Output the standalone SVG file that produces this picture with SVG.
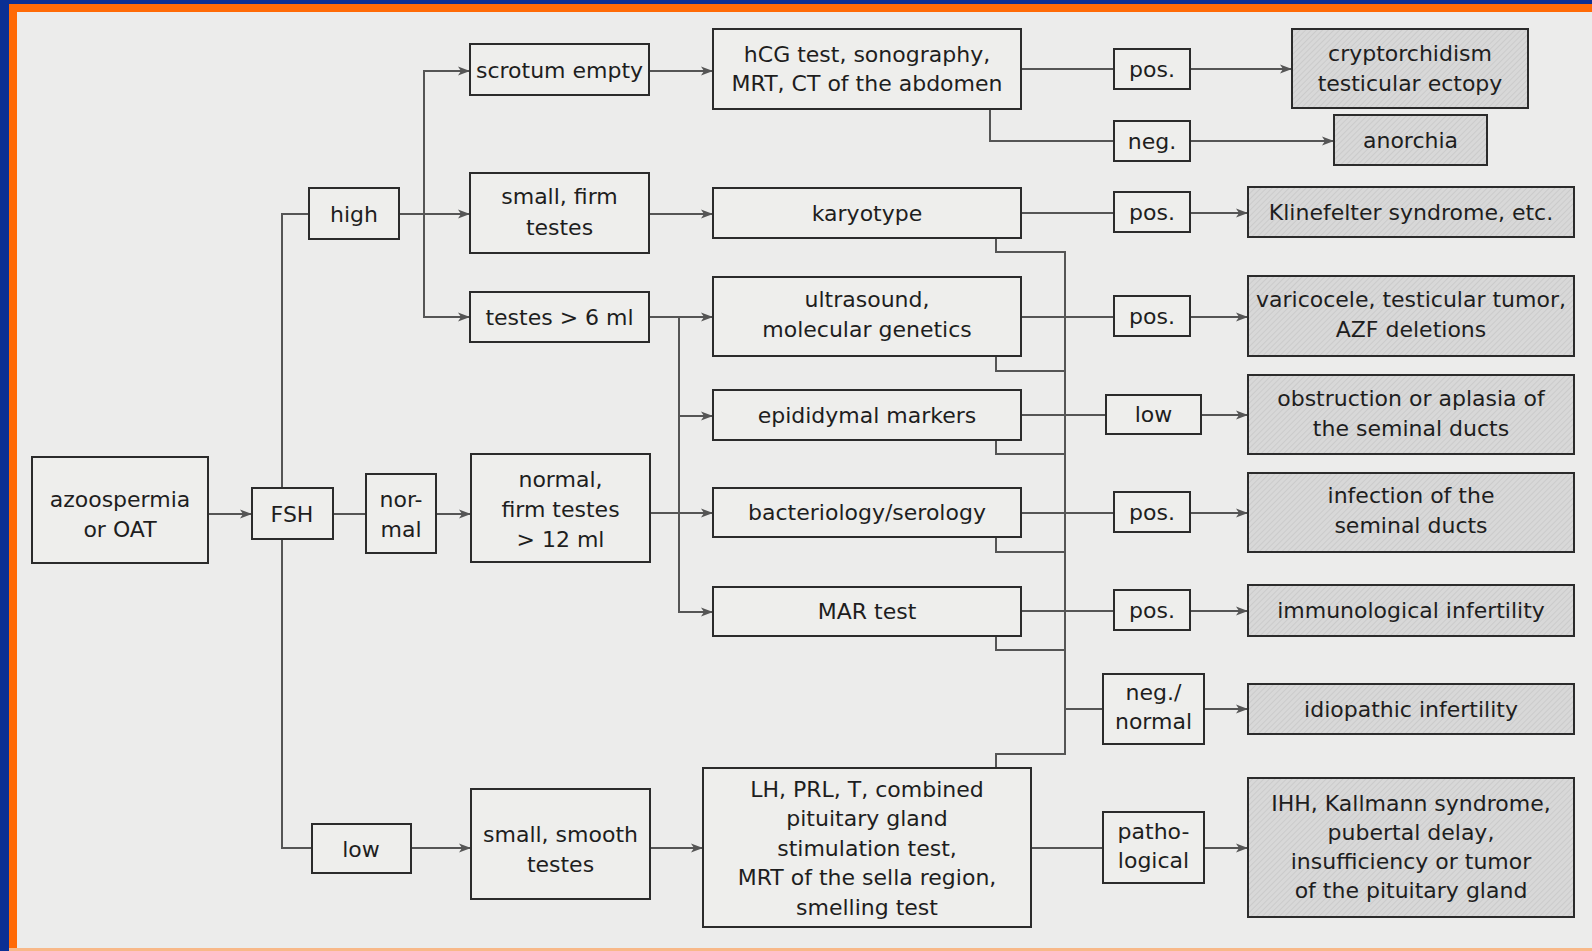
<svg xmlns="http://www.w3.org/2000/svg" width="1592" height="951" viewBox="0 0 1592 951">
<defs>
<style>
.b{fill:#eeeeec;stroke:#2b2b2b;stroke-width:2}
.r{fill:url(#hatch);stroke:#2b2b2b;stroke-width:2}
.t{font-family:"DejaVu Sans","Open Sans",sans-serif;font-size:22px;fill:#1e1e1e;text-anchor:middle}
.c{fill:none;stroke:#555;stroke-width:2}
.a{marker-end:url(#arr)}
</style>
<pattern id="hatch" width="4" height="4" patternUnits="userSpaceOnUse" patternTransform="rotate(45)">
<rect width="4" height="4" fill="#d8d8d8"/>
<line x1="0" y1="0" x2="0" y2="4" stroke="#c6c6c6" stroke-width="1.4"/>
</pattern>
<marker id="arr" viewBox="0 0 12 10" refX="12" refY="5" markerWidth="12" markerHeight="10" markerUnits="userSpaceOnUse" orient="auto">
<path d="M0,0.5 L12,5 L0,9.5 L3,5 z" fill="#555"/>
</marker>
</defs>
<rect x="0" y="0" width="1592" height="951" fill="#ececeb"/>
<rect x="0" y="0" width="1592" height="4" fill="#0a2f93"/>
<rect x="0" y="4" width="1592" height="8" fill="#ff6a06"/>
<rect x="0" y="0" width="9" height="951" fill="#0a2f93"/>
<rect x="9" y="4" width="8" height="947" fill="#ff6a06"/>
<rect x="9" y="948" width="1583" height="3" fill="#f8b888"/>

<g id="connectors">
<path class="c a" d="M208,514 H252"/>
<path class="c" d="M309,214 H282 V848 H312"/>
<path class="c" d="M333,514 H366"/>
<path class="c a" d="M436,514 H471"/>
<path class="c a" d="M399,214 H470"/>
<path class="c a" d="M424,214 V71 H470"/>
<path class="c a" d="M424,214 V317 H470"/>
<path class="c a" d="M411,848 H471"/>
<path class="c a" d="M649,71 H713"/>
<path class="c a" d="M649,214 H713"/>
<path class="c a" d="M649,317 H713"/>
<path class="c a" d="M679,317 V416 H713"/>
<path class="c a" d="M679,416 V513 H713"/>
<path class="c a" d="M679,513 V612 H713"/>
<path class="c" d="M650,513 H679"/>
<path class="c a" d="M650,848 H703"/>
<path class="c" d="M1021,69 H1114"/>
<path class="c a" d="M1190,69 H1292"/>
<path class="c" d="M990,109 V141 H1114"/>
<path class="c a" d="M1190,141 H1334"/>
<path class="c" d="M1021,213 H1114"/>
<path class="c a" d="M1190,213 H1248"/>
<path class="c" d="M1021,317 H1114"/>
<path class="c a" d="M1190,317 H1248"/>
<path class="c" d="M1021,415 H1106"/>
<path class="c a" d="M1201,415 H1248"/>
<path class="c" d="M1021,513 H1114"/>
<path class="c a" d="M1190,513 H1248"/>
<path class="c" d="M1021,611 H1114"/>
<path class="c a" d="M1190,611 H1248"/>
<path class="c" d="M996,238 V252 H1065 V754 H996 V768"/>
<path class="c" d="M996,356 V371 H1065"/>
<path class="c" d="M996,440 V454 H1065"/>
<path class="c" d="M996,537 V552 H1065"/>
<path class="c" d="M996,636 V650 H1065"/>
<path class="c" d="M1065,709 H1103"/>
<path class="c a" d="M1204,709 H1248"/>
<path class="c" d="M1031,848 H1103"/>
<path class="c a" d="M1204,848 H1248"/>
</g>

<g id="n-azoospermia"><rect class="b" x="32" y="457" width="176" height="106"/><text class="t" x="120" y="507">azoospermia</text><text class="t" x="120" y="537">or OAT</text></g>
<g id="n-fsh"><rect class="b" x="252" y="488" width="81" height="51"/><text class="t" x="292" y="522">FSH</text></g>
<g id="n-high"><rect class="b" x="309" y="188" width="90" height="51"/><text class="t" x="354" y="222">high</text></g>
<g id="n-normal"><rect class="b" x="366" y="474" width="70" height="79"/><text class="t" x="401" y="507">nor-</text><text class="t" x="401" y="537">mal</text></g>
<g id="n-low"><rect class="b" x="312" y="824" width="99" height="49"/><text class="t" x="361" y="857">low</text></g>

<g id="n-scrotum"><rect class="b" x="470" y="44" width="179" height="51"/><text class="t" x="559.5" y="78">scrotum empty</text></g>
<g id="n-smallfirm"><rect class="b" x="470" y="173" width="179" height="80"/><text class="t" x="559.5" y="204">small, firm</text><text class="t" x="559.5" y="235">testes</text></g>
<g id="n-testes6"><rect class="b" x="470" y="292" width="179" height="50"/><text class="t" x="559.5" y="325">testes &gt; 6 ml</text></g>
<g id="n-normalfirm"><rect class="b" x="471" y="454" width="179" height="108"/><text class="t" x="560.5" y="487">normal,</text><text class="t" x="560.5" y="517">firm testes</text><text class="t" x="560.5" y="547">&gt; 12 ml</text></g>
<g id="n-smallsmooth"><rect class="b" x="471" y="789" width="179" height="110"/><text class="t" x="560.5" y="842">small, smooth</text><text class="t" x="560.5" y="872">testes</text></g>

<g id="n-hcg"><rect class="b" x="713" y="29" width="308" height="80"/><text class="t" x="867" y="62">hCG test, sonography,</text><text class="t" x="867" y="91">MRT, CT of the abdomen</text></g>
<g id="n-karyotype"><rect class="b" x="713" y="188" width="308" height="50"/><text class="t" x="867" y="221">karyotype</text></g>
<g id="n-ultrasound"><rect class="b" x="713" y="277" width="308" height="79"/><text class="t" x="867" y="307">ultrasound,</text><text class="t" x="867" y="337">molecular genetics</text></g>
<g id="n-epididymal"><rect class="b" x="713" y="390" width="308" height="50"/><text class="t" x="867" y="423">epididymal markers</text></g>
<g id="n-bacteriology"><rect class="b" x="713" y="488" width="308" height="49"/><text class="t" x="867" y="520">bacteriology/serology</text></g>
<g id="n-mar"><rect class="b" x="713" y="587" width="308" height="49"/><text class="t" x="867" y="619">MAR test</text></g>
<g id="n-lh"><rect class="b" x="703" y="768" width="328" height="159"/><text class="t" x="867" y="797">LH, PRL, T, combined</text><text class="t" x="867" y="826">pituitary gland</text><text class="t" x="867" y="856">stimulation test,</text><text class="t" x="867" y="885">MRT of the sella region,</text><text class="t" x="867" y="915">smelling test</text></g>

<g id="n-pos1"><rect class="b" x="1114" y="49" width="76" height="40"/><text class="t" x="1152" y="77">pos.</text></g>
<g id="n-neg"><rect class="b" x="1114" y="121" width="76" height="40"/><text class="t" x="1152" y="149">neg.</text></g>
<g id="n-pos2"><rect class="b" x="1114" y="192" width="76" height="40"/><text class="t" x="1152" y="220">pos.</text></g>
<g id="n-pos3"><rect class="b" x="1114" y="296" width="76" height="40"/><text class="t" x="1152" y="324">pos.</text></g>
<g id="n-low2"><rect class="b" x="1106" y="395" width="95" height="39"/><text class="t" x="1153.5" y="422">low</text></g>
<g id="n-pos4"><rect class="b" x="1114" y="492" width="76" height="40"/><text class="t" x="1152" y="520">pos.</text></g>
<g id="n-pos5"><rect class="b" x="1114" y="590" width="76" height="40"/><text class="t" x="1152" y="618">pos.</text></g>
<g id="n-negnormal"><rect class="b" x="1103" y="674" width="101" height="70"/><text class="t" x="1153.5" y="700">neg./</text><text class="t" x="1153.5" y="729">normal</text></g>
<g id="n-patho"><rect class="b" x="1103" y="812" width="101" height="71"/><text class="t" x="1153.5" y="839">patho-</text><text class="t" x="1153.5" y="868">logical</text></g>

<g id="r-crypt"><rect class="r" x="1292" y="29" width="236" height="79"/><text class="t" x="1410" y="61">cryptorchidism</text><text class="t" x="1410" y="91">testicular ectopy</text></g>
<g id="r-anorchia"><rect class="r" x="1334" y="115" width="153" height="50"/><text class="t" x="1410.5" y="148">anorchia</text></g>
<g id="r-klinefelter"><rect class="r" x="1248" y="187" width="326" height="50"/><text class="t" x="1411" y="220">Klinefelter syndrome, etc.</text></g>
<g id="r-varicocele"><rect class="r" x="1248" y="276" width="326" height="80"/><text class="t" x="1411" y="307">varicocele, testicular tumor,</text><text class="t" x="1411" y="337">AZF deletions</text></g>
<g id="r-obstruction"><rect class="r" x="1248" y="375" width="326" height="79"/><text class="t" x="1411" y="406">obstruction or aplasia of</text><text class="t" x="1411" y="436">the seminal ducts</text></g>
<g id="r-infection"><rect class="r" x="1248" y="473" width="326" height="79"/><text class="t" x="1411" y="503">infection of the</text><text class="t" x="1411" y="533">seminal ducts</text></g>
<g id="r-immuno"><rect class="r" x="1248" y="585" width="326" height="51"/><text class="t" x="1411" y="618">immunological infertility</text></g>
<g id="r-idiopathic"><rect class="r" x="1248" y="684" width="326" height="50"/><text class="t" x="1411" y="717">idiopathic infertility</text></g>
<g id="r-ihh"><rect class="r" x="1248" y="778" width="326" height="139"/><text class="t" x="1411" y="811">IHH, Kallmann syndrome,</text><text class="t" x="1411" y="840">pubertal delay,</text><text class="t" x="1411" y="869">insufficiency or tumor</text><text class="t" x="1411" y="898">of the pituitary gland</text></g>
</svg>
